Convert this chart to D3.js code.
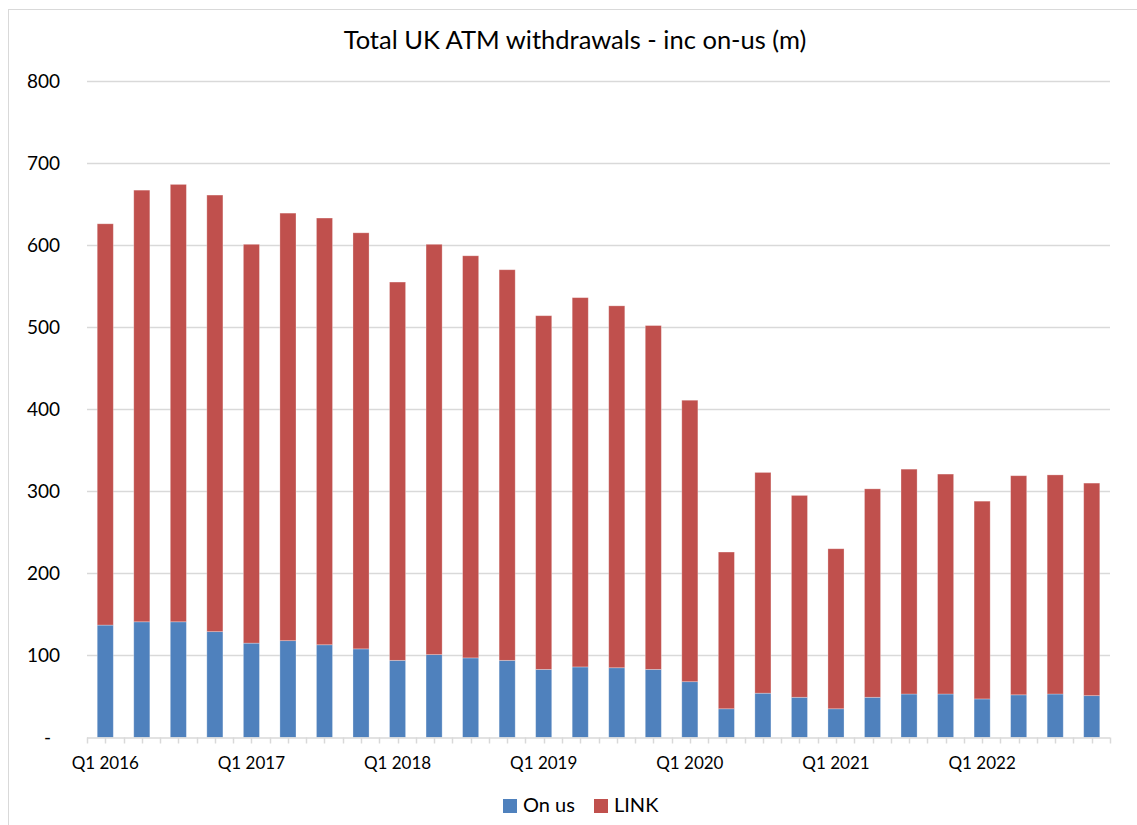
<!DOCTYPE html>
<html lang="en"><head>
<meta charset="UTF-8">
<title>Total UK ATM withdrawals</title>
<script src="https://d3js.org/d3.v7.min.js"></script>
<style>
  body { margin: 0; background: #fff; }
  text { font-family: Lato, "Open Sans", sans-serif; fill: #000; }
</style>
</head>
<body>
<svg id="vis" width="1137" height="825"></svg>
<script>
// quarters Q1 2016 .. Q4 2022
var quarters = [];
var years = [2016, 2017, 2018, 2019, 2020, 2021, 2022];
years.forEach(function(y){ for (var q = 1; q <= 4; q++) quarters.push("Q" + q + " " + y); });

// values (millions)
var onUs = [137,141,141,129,115,118,113,108,94,101,97,94,83,86,85,83,68,35,54,49,35,49,53,53,47,52,53,51];
var link = [489,526,533,532,486,521,520,507,461,500,490,476,431,450,441,419,343,191,269,246,195,254,274,268,241,267,267,259];
var seriesNames = ["On us", "LINK"];
var seriesColors = ["#4f81bd", "#c0504d"];
var yTicks = [0, 100, 200, 300, 400, 500, 600, 700, 800];

var svg = d3.select("#vis");
var plotL = 87, plotR = 1110, plotT = 81, plotB = 737.5;

// chart frame
svg.append("rect")
  .attr("x", 8.5).attr("y", 9.5)
  .attr("width", 1140).attr("height", 830)
  .attr("fill", "none").attr("stroke", "#d9d9d9");

svg.append("text")
  .attr("x", 575).attr("y", 49)
  .attr("text-anchor", "middle")
  .style("font-size", "25.5px")
  .text("Total UK ATM withdrawals - inc on-us (m)");

var x = d3.scaleBand().domain(quarters).range([plotL, plotR])
  .paddingInner(0.56).paddingOuter(0.28);
var y = d3.scaleLinear().domain([0, 800]).range([plotB, plotT]);

// gridlines
svg.append("g").selectAll("line")
  .data(yTicks.slice(1))
  .join("line")
  .attr("x1", plotL).attr("x2", plotR)
  .attr("y1", function(d){ return Math.round(y(d)) + 0.5; })
  .attr("y2", function(d){ return Math.round(y(d)) + 0.5; })
  .attr("stroke", "#d9d9d9").attr("stroke-width", 1.5);

// y labels
svg.append("g").selectAll("text")
  .data(yTicks)
  .join("text")
  .attr("x", function(d){ return d == 0 ? 51 : 60; })
  .attr("y", function(d){ return y(d); })
  .attr("dy", "0.35em")
  .attr("text-anchor", "end")
  .style("font-size", "19px")
  .text(function(d){ return d == 0 ? "-" : d; });

// stacked bars
var rows = quarters.map(function(q, i){ return {q: q, "On us": onUs[i], "LINK": link[i]}; });
var stack = d3.stack().keys(seriesNames)(rows);

var gBars = svg.append("g");
stack.forEach(function(layer, k){
  gBars.append("g")
    .attr("fill", seriesColors[k])
    .selectAll("rect")
    .data(layer)
    .join("rect")
    .attr("x", function(d){ return x(d.data.q); })
    .attr("width", x.bandwidth())
    .attr("y", function(d){ return y(d[1]); })
    .attr("height", function(d){ return y(d[0]) - y(d[1]); })
    .attr("stroke", "#ffffff").attr("stroke-opacity", 0.35).attr("stroke-width", 0.8);
});

// x axis line and ticks (boundaries + centres)
var gx = svg.append("g");
gx.append("line")
  .attr("x1", plotL).attr("x2", plotR)
  .attr("y1", plotB + 0.5).attr("y2", plotB + 0.5)
  .attr("stroke", "#d9d9d9").attr("stroke-width", 1.5);
var step = x.step();
var tickPos = d3.range(quarters.length * 2 + 1).map(function(i){ return plotL + i * step / 2; });
gx.selectAll("line.tk")
  .data(tickPos)
  .join("line")
  .attr("class", "tk")
  .attr("x1", function(d){ return Math.round(d) + 0.5; })
  .attr("x2", function(d){ return Math.round(d) + 0.5; })
  .attr("y1", plotB).attr("y2", plotB + 6)
  .attr("stroke", "#d9d9d9").attr("stroke-width", 1.5);

gx.selectAll("text")
  .data(quarters.filter(function(q, i){ return i % 4 == 0; }))
  .join("text")
  .attr("x", function(d){ return x(d) + x.bandwidth() / 2; })
  .attr("y", 769)
  .attr("text-anchor", "middle")
  .style("font-size", "17px")
  .text(function(d){ return d; });

// legend
var legend = svg.append("g");
var legendX = [503, 594];
seriesNames.forEach(function(name, k){
  legend.append("rect")
    .attr("x", legendX[k]).attr("y", 799)
    .attr("width", 14).attr("height", 14)
    .attr("fill", seriesColors[k]);
  legend.append("text")
    .attr("x", legendX[k] + 20).attr("y", 812)
    .style("font-size", "20px")
    .text(name);
});
</script>
</body></html>
